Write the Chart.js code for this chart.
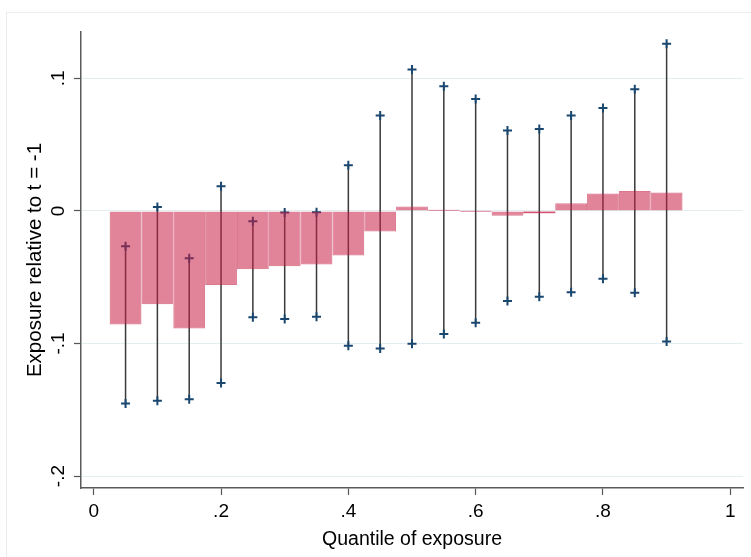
<!DOCTYPE html>
<html>
<head>
<meta charset="utf-8">
<title>Exposure by quantile</title>
<script src="https://cdn.jsdelivr.net/npm/chart.js@4.4.1/dist/chart.umd.min.js"></script>
<style>
	body { margin: 0; background: #fff; }
	#wrap { position: relative; width: 751px; height: 557px; overflow: hidden; }
	#frame {
		position: absolute; left: 6px; top: 12px; width: 800px; height: 600px;
		border-left: 1px solid #e8eeee; border-top: 1px solid #e8eeee;
		pointer-events: none;
	}
</style>
</head>
<body>
<div id="wrap">
	<canvas id="quantChart"></canvas>
	<div id="frame"></div>
</div>
<script>
// quantiles of exposure (bar centres)
const quantiles = [0.05, 0.10, 0.15, 0.20, 0.25, 0.30, 0.35, 0.40, 0.45,
	0.50, 0.55, 0.60, 0.65, 0.70, 0.75, 0.80, 0.85, 0.90]

// point estimates (bars)
const estimates = [-0.0856, -0.0703, -0.0886, -0.0558, -0.0439, -0.0417, -0.0404, -0.0336, -0.0155,
	0.0033, 0.0005, -0.0002, -0.0037, -0.0015, 0.0058, 0.0131, 0.0151, 0.0139]

// confidence intervals
const ciLow = [-0.1452, -0.1432, -0.1421, -0.1298, -0.0801, -0.0816, -0.0799, -0.1017, -0.1037,
	-0.1002, -0.0929, -0.0844, -0.0680, -0.0648, -0.0613, -0.0512, -0.0618, -0.0984]
const ciHigh = [-0.0266, 0.0030, -0.0356, 0.0186, -0.0078, -0.0012, -0.0010, 0.0344, 0.0721,
	0.1068, 0.0940, 0.0844, 0.0606, 0.0618, 0.0721, 0.0776, 0.0919, 0.1261]

// axis ticks
const xTicks = [0, 0.2, 0.4, 0.6, 0.8, 1]
const xTickLabels = ['0', '.2', '.4', '.6', '.8', '1']
const yTicks = [-0.2, -0.1, 0, 0.1]
const yTickLabels = ['-.2', '-.1', '0', '.1']

const FONT = "'Liberation Sans', Arial, sans-serif"

// each CI is a short segment, split by a null point
const ciPoints = []
quantiles.forEach((q, i) => {
	ciPoints.push({ x: q, y: ciLow[i] })
	ciPoints.push({ x: q, y: ciHigh[i] })
	ciPoints.push({ x: q, y: null })
})

// y tick labels are rotated like Stata draws them
const rotatedYLabels = {
	id: 'rotatedYLabels',
	afterDraw(chart) {
		const ctx = chart.ctx
		const yScale = chart.scales.y
		ctx.save()
		ctx.fillStyle = '#000'
		ctx.font = '19px ' + FONT
		ctx.textAlign = 'center'
		ctx.textBaseline = 'middle'
		yTicks.forEach((v, i) => {
			ctx.save()
			ctx.translate(59, yScale.getPixelForValue(v))
			ctx.rotate(-Math.PI / 2)
			ctx.fillText(yTickLabels[i], 0, 0)
			ctx.restore()
		})
		ctx.restore()
	}
}

const ctx = document.getElementById('quantChart').getContext('2d')
const quantChart = new Chart(ctx, {
	type: 'bar',
	data: {
		datasets: [
			{
				type: 'bar',
				label: 'Estimate',
				data: quantiles.map((q, i) => ({ x: q, y: estimates[i] })),
				backgroundColor: 'rgba(200, 30, 70, 0.55)',
				borderColor: 'rgba(196, 28, 66, 0.6)',
				borderWidth: 1,
				// near-zero bars still show as a thin sliver
				inflateAmount: c => Math.abs(estimates[c.dataIndex]) < 0.002 ? 0.5 : 0,
				barPercentage: 1,
				categoryPercentage: 1,
				order: 0,
			},
			{
				type: 'line',
				label: 'CI',
				data: ciPoints,
				borderColor: '#3a3a3a',
				borderWidth: 1.5,
				spanGaps: false,
				fill: false,
				pointStyle: 'cross',
				pointRadius: 4.5,
				pointHoverRadius: 4.5,
				pointBorderColor: '#1a476f',
				pointBorderWidth: 2,
				order: 1,
			},
		],
	},
	options: {
		responsive: true,
		maintainAspectRatio: false,
		animation: false,
		devicePixelRatio: 1,
		layout: { padding: { top: 32, right: 8, left: 0, bottom: 0 } },
		plugins: {
			legend: { display: false },
			tooltip: { enabled: false },
		},
		scales: {
			x: {
				type: 'linear',
				offset: false,
				min: -0.02,
				max: 1.02,
				afterBuildTicks: s => { s.ticks = xTicks.map(v => ({ value: v })) },
				afterFit: s => { s.height = 69 },
				ticks: {
					callback: (v, i) => xTickLabels[i],
					color: '#000',
					font: { size: 19, family: FONT },
					padding: 5,
					maxRotation: 0,
				},
				grid: {
					offset: false,
					drawOnChartArea: false,
					drawTicks: true,
					tickLength: 7,
					tickColor: '#555',
					tickWidth: 1.2,
				},
				border: { color: '#5a5a5a', width: 1.5 },
				title: {
					display: true,
					text: 'Quantile of exposure',
					color: '#000',
					font: { size: 19.5, family: FONT },
					padding: { top: 0, bottom: 6 },
				},
			},
			y: {
				min: -0.209,
				max: 0.135,
				afterBuildTicks: s => { s.ticks = yTicks.map(v => ({ value: v })) },
				afterFit: s => { s.width = 81 },
				ticks: { display: false },
				grid: {
					color: '#e4eef0',
					lineWidth: 1,
					drawTicks: true,
					tickLength: 7,
					tickColor: '#555',
					tickWidth: 1.2,
				},
				border: { color: '#5a5a5a', width: 1.5 },
				title: {
					display: true,
					text: 'Exposure relative to t = -1',
					color: '#000',
					font: { size: 20.5, family: FONT },
					padding: { top: 23, bottom: 0 },
				},
			},
		},
	},
	plugins: [rotatedYLabels],
})
</script>
</body>
</html>
